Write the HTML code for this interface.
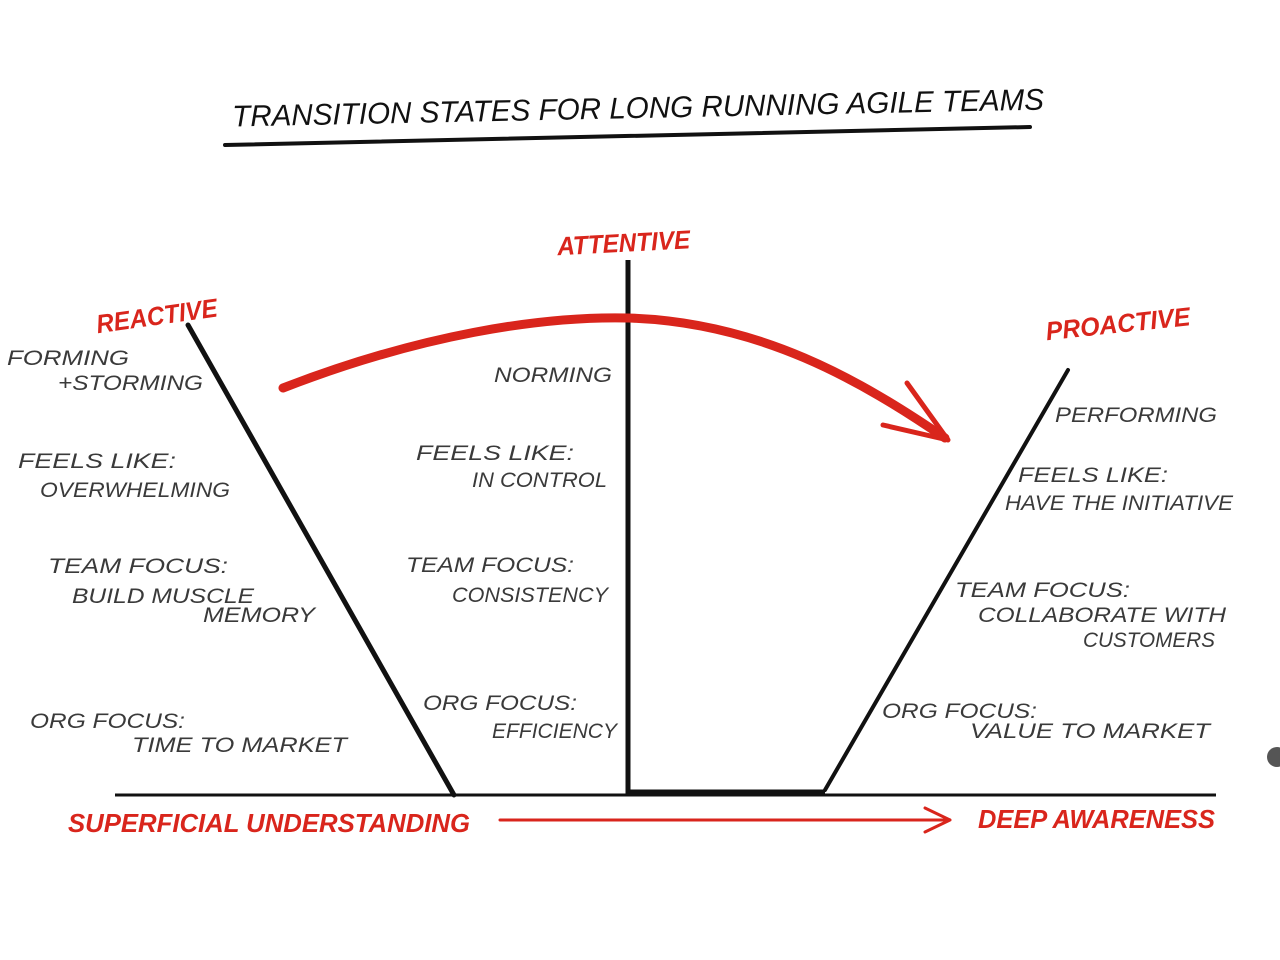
<!DOCTYPE html>
<html><head><meta charset="utf-8"><style>
html,body{margin:0;padding:0;background:#fff;}
svg{display:block;}
text{font-family:"Liberation Sans",sans-serif;font-style:italic;text-transform:uppercase;}
.g{fill:#3a3a3a;font-size:21px;}
.r{fill:#d9251c;font-size:26px;font-weight:bold;}
</style></head><body>
<svg width="1280" height="960" viewBox="0 0 1280 960" xmlns="http://www.w3.org/2000/svg">
<rect width="1280" height="960" fill="#fff"/>
<text x="232" y="118" font-size="30" fill="#111" textLength="812" lengthAdjust="spacingAndGlyphs" transform="rotate(-1.2 640 105)">TRANSITION STATES FOR LONG RUNNING AGILE TEAMS</text>
<path d="M225 145 L1030 127" stroke="#111" stroke-width="4" stroke-linecap="round"/>
<text class="r" x="557" y="252" textLength="133" lengthAdjust="spacingAndGlyphs" transform="rotate(-3 620 240)">ATTENTIVE</text>
<text class="r" x="95" y="325" textLength="122" lengthAdjust="spacingAndGlyphs" transform="rotate(-8 155 310)">REACTIVE</text>
<text class="r" x="1045" y="333" textLength="145" lengthAdjust="spacingAndGlyphs" transform="rotate(-6 1115 320)">PROACTIVE</text>
<path d="M628 260 L628 796" stroke="#111" stroke-width="5"/>
<path d="M188 325 L454 795" stroke="#111" stroke-width="5" stroke-linecap="round"/>
<path d="M1068 370 L825 790" stroke="#111" stroke-width="4" stroke-linecap="round"/>
<path d="M115 795 L1216 795" stroke="#111" stroke-width="3"/>
<path d="M630 792 L825 792" stroke="#111" stroke-width="5"/>
<path d="M283 388 C420 335 540 316 628 318 C760 322 860 380 945 438" stroke="#d9251c" stroke-width="9" fill="none" stroke-linecap="round"/>
<path d="M948 440 L907 383 M948 440 L883 425" stroke="#d9251c" stroke-width="5" fill="none" stroke-linecap="round"/>
<text class="r" x="68" y="832" font-size="24" textLength="402" lengthAdjust="spacingAndGlyphs">SUPERFICIAL UNDERSTANDING</text>
<path d="M500 820 L950 820 M950 820 L925 808 M950 820 L925 832" stroke="#d9251c" stroke-width="3" fill="none" stroke-linecap="round"/>
<text class="r" x="978" y="828" font-size="24" textLength="237" lengthAdjust="spacingAndGlyphs">DEEP AWARENESS</text>
<text class="g" x="7" y="365" textLength="122" lengthAdjust="spacingAndGlyphs">FORMING</text>
<text class="g" x="58" y="390" textLength="145" lengthAdjust="spacingAndGlyphs">+STORMING</text>
<text class="g" x="18" y="468" textLength="158" lengthAdjust="spacingAndGlyphs">FEELS LIKE:</text>
<text class="g" x="40" y="497" textLength="190" lengthAdjust="spacingAndGlyphs">OVERWHELMING</text>
<text class="g" x="48" y="573" textLength="180" lengthAdjust="spacingAndGlyphs">TEAM FOCUS:</text>
<text class="g" x="72" y="603" textLength="182" lengthAdjust="spacingAndGlyphs">BUILD MUSCLE</text>
<text class="g" x="203" y="622" textLength="112" lengthAdjust="spacingAndGlyphs">MEMORY</text>
<text class="g" x="30" y="728" textLength="155" lengthAdjust="spacingAndGlyphs">ORG FOCUS:</text>
<text class="g" x="132" y="752" textLength="215" lengthAdjust="spacingAndGlyphs">TIME TO MARKET</text>
<text class="g" x="494" y="382" textLength="118" lengthAdjust="spacingAndGlyphs">NORMING</text>
<text class="g" x="416" y="460" textLength="158" lengthAdjust="spacingAndGlyphs">FEELS LIKE:</text>
<text class="g" x="472" y="487" textLength="135" lengthAdjust="spacingAndGlyphs">IN CONTROL</text>
<text class="g" x="406" y="572" textLength="168" lengthAdjust="spacingAndGlyphs">TEAM FOCUS:</text>
<text class="g" x="452" y="602" textLength="156" lengthAdjust="spacingAndGlyphs">CONSISTENCY</text>
<text class="g" x="423" y="710" textLength="154" lengthAdjust="spacingAndGlyphs">ORG FOCUS:</text>
<text class="g" x="492" y="738" textLength="125" lengthAdjust="spacingAndGlyphs">EFFICIENCY</text>
<text class="g" x="1055" y="422" textLength="162" lengthAdjust="spacingAndGlyphs">PERFORMING</text>
<text class="g" x="1018" y="482" textLength="150" lengthAdjust="spacingAndGlyphs">FEELS LIKE:</text>
<text class="g" x="1005" y="510" textLength="228" lengthAdjust="spacingAndGlyphs">HAVE THE INITIATIVE</text>
<text class="g" x="955" y="597" textLength="175" lengthAdjust="spacingAndGlyphs">TEAM FOCUS:</text>
<text class="g" x="978" y="622" textLength="248" lengthAdjust="spacingAndGlyphs">COLLABORATE WITH</text>
<text class="g" x="1083" y="647" textLength="132" lengthAdjust="spacingAndGlyphs">CUSTOMERS</text>
<text class="g" x="882" y="718" textLength="155" lengthAdjust="spacingAndGlyphs">ORG FOCUS:</text>
<text class="g" x="970" y="738" textLength="240" lengthAdjust="spacingAndGlyphs">VALUE TO MARKET</text>
<circle cx="1277" cy="757" r="10" fill="#555"/>
</svg>
</body></html>
